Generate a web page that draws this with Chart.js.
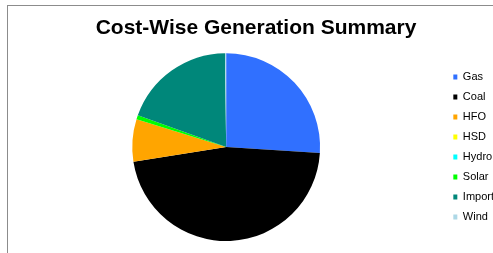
<!DOCTYPE html>
<html>
<head>
<meta charset="utf-8">
<script src="https://cdn.jsdelivr.net/npm/chart.js@4/dist/chart.umd.min.js"></script>
<style>
  html, body { margin: 0; padding: 0; background: #fff; overflow: hidden; }
  #frame {
    position: absolute; left: 7px; top: 5px; width: 500px; height: 260px;
    border-top: 1px solid #8c8c8c; border-left: 1px solid #8c8c8c;
  }
  #box { position: absolute; left: 8px; top: 6px; width: 500px; height: 247px; }
</style>
</head>
<body>
<div id="frame"></div>
<div id="box"><canvas id="chart"></canvas></div>
<script>
"use strict"

// cost share by source (%)
const sources = ["Gas", "Coal", "HFO", "HSD", "Hydro", "Solar", "Import", "Wind"];
const costShare = [26.0, 46.5, 7.3, 0.0, 0.0, 0.7, 19.3, 0.2];
const sliceColors = ["#3070FF", "#000000", "#FFA500", "#FFFF00", "#00FFFF", "#00FF00", "#00877A", "#ADD8E6"];

const chartTitle = "Cost-Wise Generation Summary";

new Chart("chart", {
  type: 'pie',
  data: {
    labels: sources,
    datasets: [{
      data: costShare,
      backgroundColor: sliceColors,
      borderWidth: 0
    }]
  },
  options: {
    responsive: true,
    maintainAspectRatio: false,
    animation: false,
    layout: { padding: { bottom: 12, right: 4 } },
    plugins: {
      title: {
        display: true,
        text: chartTitle,
        color: '#000',
        font: { family: 'Liberation Sans, Arial, sans-serif', size: 21, weight: 'bold' },
        padding: { top: 10, bottom: 12 }
      },
      legend: {
        position: 'right',
        fullSize: false,
        labels: {
          boxWidth: 4,
          boxHeight: 5,
          padding: 9,
          color: '#000',
          font: { family: 'Liberation Sans, Arial, sans-serif', size: 11 }
        }
      },
      tooltip: { enabled: false }
    }
  }
});
</script>
</body>
</html>
